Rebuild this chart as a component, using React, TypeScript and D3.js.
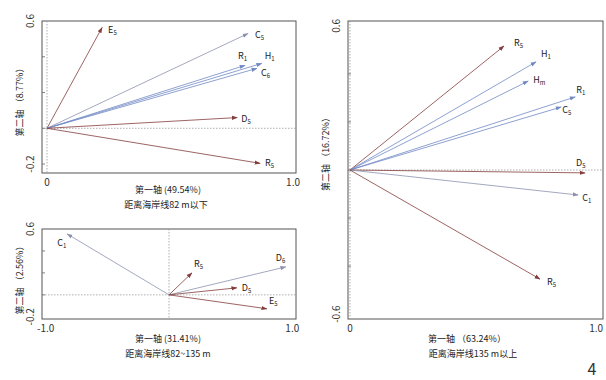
import React from "react";
import * as d3 from "d3";

// ---- data ----
const panelAVars = ["E5", "C5", "R1", "H1", "C6", "D5", "R5"];
const panelAX = [0.224, 0.817, 0.805, 0.873, 0.853, 0.773, 0.866];
const panelAY = [0.564, 0.53, 0.352, 0.363, 0.335, 0.06, -0.196];
const panelAGroup = ["r", "g", "b", "b", "b", "r", "r"];

const panelBVars = ["C1", "R5", "D6", "D5", "E5"];
const panelBX = [-0.826, 0.186, 0.947, 0.55, 0.794];
const panelBY = [0.555, 0.2, 0.255, 0.064, -0.127];
const panelBGroup = ["g", "r", "g", "r", "r"];

const panelCVars = ["R5", "H1", "Hm", "R1", "C5", "D5", "C1", "R5"];
const panelCX = [0.626, 0.756, 0.724, 0.915, 0.858, 0.955, 0.927, 0.772];
const panelCY = [0.516, 0.45, 0.37, 0.304, 0.262, -0.012, -0.104, -0.454];
const panelCGroup = ["r", "b", "b", "b", "b", "r", "g", "r"];

const colors: Record<string, string> = { r: "#843c3c", b: "#7189c4", g: "#8c92ae" };

const FONT = "'Noto Sans CJK SC', 'DejaVu Sans', sans-serif";

type Pt = { name: string; x: number; y: number; g: string; lx: number; ly: number };

function Label({ name, x, y }: { name: string; x: number; y: number }) {
  const base = name.slice(0, 1);
  const sub = name.slice(1);
  return (
    <text x={x} y={y} fontSize={9} fontFamily={FONT} fill="#222">
      {base}
      <tspan fontSize={6} dy={2}>{sub}</tspan>
    </text>
  );
}

function Panel(props: {
  id: string;
  x0: number; x1: number; y0: number; y1: number;
  xd: [number, number]; yd: [number, number];
  xticks: number[]; xtickLabels: string[];
  yticks: number[]; ytickLabels: string[];
  yMinorTicks: number[];
  pts: Pt[];
  xTitle: string; xTitleX: number; xTitleY: number;
  sub: string; subX: number; subY: number;
  yTitle: string; yTitleX: number; yTitleY: number;
  vzero: number;
}) {
  const xs = d3.scaleLinear().domain(props.xd).range([props.x0, props.x1]);
  const ys = d3.scaleLinear().domain(props.yd).range([props.y1, props.y0]);
  const ox = xs(0), oy = ys(0);
  const mid = `ah-${props.id}`;
  return (
    <g>
      <defs>
        {Object.entries(colors).map(([k, c]) => (
          <marker key={k} id={`${mid}-${k}`} viewBox="0 0 10 10" refX={9} refY={5}
            markerWidth={6} markerHeight={6} orient="auto" markerUnits="userSpaceOnUse">
            <path d="M0,1.5 L10,5 L0,8.5 z" fill={c} />
          </marker>
        ))}
      </defs>
      <rect x={props.x0} y={props.y0} width={props.x1 - props.x0} height={props.y1 - props.y0}
        fill="none" stroke="#555" strokeWidth={1} />
      <line x1={props.x0} x2={props.x1} y1={oy} y2={oy} stroke="#999" strokeDasharray="1.5,1.5" strokeWidth={0.8} />
      <line x1={xs(props.vzero)} x2={xs(props.vzero)} y1={props.y0} y2={props.y1} stroke="#999" strokeDasharray="1.5,1.5" strokeWidth={0.8} />
      {props.yMinorTicks.map((t, i) => (
        <line key={i} x1={props.x0} x2={props.x0 + 3} y1={ys(t)} y2={ys(t)} stroke="#666" strokeWidth={0.8} />
      ))}
      {props.pts.map((p, i) => (
        <g key={i}>
          <line x1={ox} y1={oy} x2={xs(p.x)} y2={ys(p.y)} stroke={colors[p.g]} strokeWidth={0.8}
            markerEnd={`url(#${mid}-${p.g})`} />
          <Label name={p.name} x={xs(p.x) + p.lx} y={ys(p.y) + p.ly} />
        </g>
      ))}
      {props.xticks.map((t, i) => (
        <text key={i} x={xs(t)} y={props.y1 + 13} fontSize={10} fontFamily={FONT} fill="#333" textAnchor="middle">
          {props.xtickLabels[i]}
        </text>
      ))}
      {props.yticks.map((t, i) => (
        <text key={i} transform={`translate(${props.x0 - 8},${ys(t)}) rotate(-90)`} fontSize={10}
          fontFamily={FONT} fill="#333" textAnchor="middle">
          {props.ytickLabels[i]}
        </text>
      ))}
      <text x={props.xTitleX} y={props.xTitleY} fontSize={9} fontFamily={FONT} fill="#222" textAnchor="middle">{props.xTitle}</text>
      <text x={props.subX} y={props.subY} fontSize={9} fontFamily={FONT} fill="#222" textAnchor="middle">{props.sub}</text>
      <text transform={`translate(${props.yTitleX},${props.yTitleY}) rotate(-90)`} fontSize={9} fontFamily={FONT}
        fill="#222" textAnchor="middle">{props.yTitle}</text>
    </g>
  );
}

const toPts = (names: string[], xs: number[], ys: number[], gs: string[], offs: [number, number][]): Pt[] =>
  names.map((n, i) => ({ name: n, x: xs[i], y: ys[i], g: gs[i], lx: offs[i][0], ly: offs[i][1] }));

export default function App() {
  const aPts = toPts(panelAVars, panelAX, panelAY, panelAGroup,
    [[6, 6], [7, 4], [-7, -6], [3, -4], [4, 8], [4, 4], [5, 3]]);
  const bPts = toPts(panelBVars, panelBX, panelBY, panelBGroup,
    [[-10, 12], [2, -6], [-10, -6], [5, 3], [2, -5]]);
  const cPts = toPts(panelCVars, panelCX, panelCY, panelCGroup,
    [[10, 0], [5, -5], [5, 2], [1, -4], [1, 6], [-9, -7], [4, 6], [7, 6]]);
  return (
    <svg width={606} height={380} style={{ display: "block", position: "absolute", left: 0, top: 0 }}>
      <rect x={0} y={0} width={606} height={380} fill="#fff" />
      <Panel id="a" x0={42} x1={296} y0={21} y1={173} xd={[-0.0203, 1.012]} yd={[-0.25, 0.6]}
        xticks={[0, 1]} xtickLabels={["0", "1.0"]}
        yticks={[0.6, -0.2]} ytickLabels={["0.6", "-0.2"]}
        yMinorTicks={[0.4, 0.2, 0, -0.2]}
        pts={aPts}
        xTitle="第一轴 (49.54%)" xTitleX={168} xTitleY={193}
        sub="距离海岸线82 m以下" subX={166} subY={208}
        yTitle="第二轴 （8.77%）" yTitleX={23} yTitleY={100} vzero={0} />
      <Panel id="b" x0={42} x1={296} y0={229} y1={319} xd={[-1.03, 1.03]} yd={[-0.22, 0.6]}
        xticks={[-1, 1]} xtickLabels={["-1.0", "1.0"]}
        yticks={[0.6, -0.2]} ytickLabels={["0.6", "-0.2"]}
        yMinorTicks={[0.4, 0.2, 0]}
        pts={bPts}
        xTitle="第一轴 (31.41%)" xTitleX={168} xTitleY={342}
        sub="距离海岸线82~135 m" subX={168} subY={357}
        yTitle="第二轴 （2.56%）" yTitleX={23} yTitleY={278} vzero={0} />
      <Panel id="c" x0={348} x1={603} y0={21} y1={319} xd={[-0.008, 1.028]} yd={[-0.62, 0.62]}
        xticks={[0, 1]} xtickLabels={["0", "1.0"]}
        yticks={[0.6, -0.6]} ytickLabels={["0.6", "-0.6"]}
        yMinorTicks={[0.4, 0.2, 0, -0.2, -0.4]}
        pts={cPts}
        xTitle="第一轴 （63.24%）" xTitleX={467} xTitleY={342}
        sub="距离海岸线135 m以上" subX={473} subY={357}
        yTitle="第二轴 （16.72%）" yTitleX={329} yTitleY={152} vzero={0} />
      <text x={592} y={375} fontSize={16} fontFamily={FONT} fill="#333" textAnchor="middle">4</text>
    </svg>
  );
}
